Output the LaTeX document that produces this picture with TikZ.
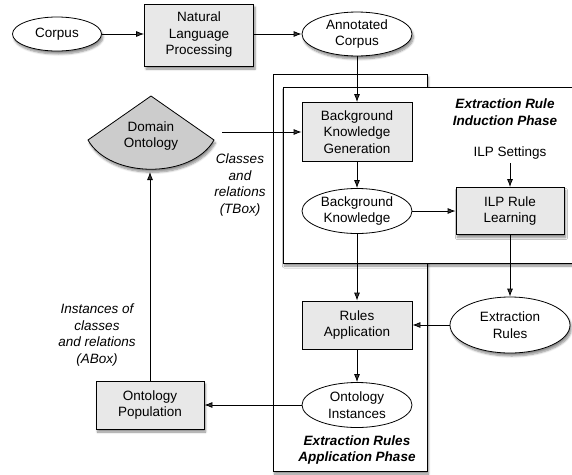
\documentclass[tikz,border=0pt]{standalone}
\usepackage{fontspec}
\setmainfont{Liberation Sans}
\usetikzlibrary{positioning}
\usetikzlibrary{shapes.geometric}
\usetikzlibrary{arrows.meta}
\usetikzlibrary{shadows.blur}

\begin{document}
\begin{tikzpicture}[x=1pt,y=-1pt,
    font=\fontsize{13.5}{16.5}\selectfont,
    >={Latex[length=8pt,width=6pt]},
    line width=0.8pt,
    soft/.style={blur shadow={shadow xshift=1.5pt,shadow yshift=-3pt,shadow blur steps=6,shadow opacity=45}},
    procbox/.style={draw, fill=gray!18, align=center, minimum width=110pt, minimum height=48pt, inner sep=2pt},
    databox/.style={draw, ellipse, fill=white, align=center, minimum width=110pt, minimum height=45pt, inner sep=1pt},
    phase/.style={font=\fontsize{13.5}{16.5}\selectfont\bfseries\itshape, align=center},
    note/.style={font=\fontsize{13.5}{16.5}\selectfont\itshape, align=center}]
            \useasboundingbox (0,0) rectangle (572,474);
            \draw[fill=white, soft] (273,74) rectangle (427,471);
            \draw[fill=white, soft] (283,87) rectangle (590,263);
            \node[phase] (indtitle) at (505,112) {Extraction Rule\\Induction Phase};
            \node[phase] (apptitle) at (357,450) {Extraction Rules\\Application Phase};
            \node[databox, soft, minimum width=89pt, minimum height=34pt] (corpus) at (57,34) {Corpus};
            \node[procbox, soft, minimum width=109pt, minimum height=62pt] (nlp) at (199,35) {Natural\\Language\\Processing};
            \node[databox, soft, minimum height=42pt] (anncorpus) at (357,34) {Annotated\\Corpus};
            \draw[fill=gray!40, soft] (151,96) -- (214,140) .. controls (192,179) and (110,179) .. (88,140) -- cycle;
            \node[align=center] (domont) at (151,136) {Domain\\Ontology};
            \coordinate (domright) at (222,132);
            \coordinate (dombottom) at (150,172);
            \node[procbox, minimum height=59pt] (bkgen) at (357,132) {Background\\Knowledge\\Generation};
            \node[databox] (bk) at (357,211) {Background\\Knowledge};
            \node (ilpset) at (510,153) {ILP Settings};
            \node[procbox, soft, minimum width=108pt, minimum height=47pt] (ilp) at (510,211) {ILP Rule\\Learning};
            \node[databox, soft, minimum width=120pt, minimum height=56pt] (exrules) at (510,325) {Extraction\\Rules};
            \node[procbox] (rulesapp) at (357,325) {Rules\\Application};
            \node[databox] (ontinst) at (357,405) {Ontology\\Instances};
            \node[procbox, soft, minimum width=108pt] (ontpop) at (150,405) {Ontology\\Population};
            \node[note] (tbox) at (240,185) {Classes\\and\\relations\\(TBox)};
            \node[note] (abox) at (97,335) {Instances of\\classes\\and relations\\(ABox)};
            \draw[->] (corpus) -- (nlp.west |- corpus);
            \draw[->] (nlp.east |- anncorpus) -- (anncorpus);
            \draw[->] (anncorpus) -- (bkgen);
            \draw[->] (domright) -- (bkgen.west);
            \draw[->] (bkgen) -- (bk);
            \draw[->] (bk) -- (ilp);
            \draw[->] (ilpset) -- (ilp);
            \draw[->] (ilp) -- (exrules);
            \draw[->] (bk) -- (rulesapp);
            \draw[->] (exrules) -- (rulesapp);
            \draw[->] (rulesapp) -- (ontinst);
            \draw[->] (ontinst) -- (ontpop);
            \draw[->] (ontpop) -- (dombottom);
        \end{tikzpicture}
\end{document}
